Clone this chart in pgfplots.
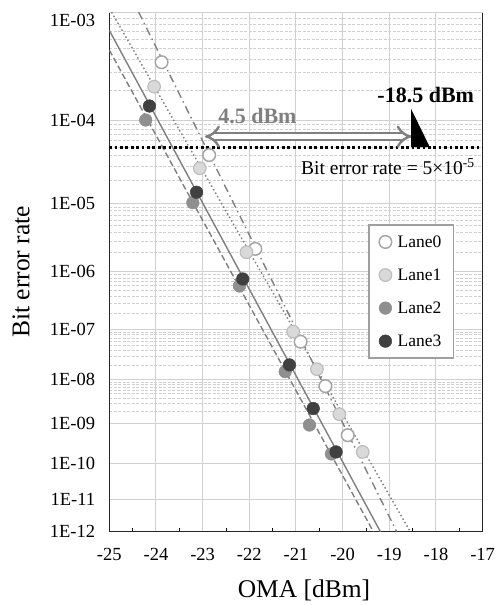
\documentclass[border=0pt]{standalone}
\usepackage{fontspec}
\setmainfont{Liberation Serif}
\usepackage{pgfplots}
\pgfplotsset{compat=1.18}
\usetikzlibrary{arrows.meta}
\definecolor{lc}{HTML}{7F7F7F}
\definecolor{gridc}{HTML}{D0D0D0}
\definecolor{lzero}{HTML}{A6A6A6}
\definecolor{lonefill}{HTML}{D9D9D9}
\definecolor{loneedge}{HTML}{BDBDBD}
\definecolor{ltwo}{HTML}{8F8F8F}
\definecolor{lthree}{HTML}{404040}
\definecolor{arrc}{HTML}{808080}
\begin{document}
\begin{tikzpicture}
\useasboundingbox (-109.3bp,-73.3bp) rectangle (386.7bp,531.7bp);
\begin{axis}[
  at={(0,0)}, anchor=south west,
  scale only axis, width=373.3bp, height=519.5bp,
  xmin=-25, xmax=-17, ymin=1e-12, ymax=1e-3,
  y coord trafo/.code={\begingroup\pgfkeys{/pgf/fpu=true,/pgf/fpu/output format=fixed}\pgfmathparse{-log10(-log10(#1))}\pgfmathsmuggle\pgfmathresult\endgroup},
  xtick={-25,-24,-23,-22,-21,-20,-19,-18,-17},
  xticklabels={-25,-24,-23,-22,-21,-20,-19,-18,-17},
  ytick={1e-4,1e-5,1e-6,1e-7,1e-8,1e-9,1e-10,1e-11,1e-12},
  yticklabels={1E-04,1E-05,1E-06,1E-07,1E-08,1E-09,1E-10,1E-11,1E-12},
  extra y ticks={1e-3},
  extra y tick labels={1E-03},
  extra y tick style={yticklabel style={yshift=-8bp}},
  minor ytick={2e-4,3e-4,4e-4,5e-4,6e-4,7e-4,8e-4,9e-4,
    2e-5,3e-5,4e-5,5e-5,6e-5,7e-5,8e-5,9e-5,
    2e-6,3e-6,4e-6,5e-6,6e-6,7e-6,8e-6,9e-6,
    2e-7,3e-7,4e-7,5e-7,6e-7,7e-7,8e-7,9e-7,
    2e-8,3e-8,4e-8,5e-8,6e-8,7e-8,8e-8,9e-8,
    2e-9,3e-9,4e-9,5e-9,6e-9,7e-9,8e-9,9e-9},
  minor x tick num=1,
  xmajorgrids=true, ymajorgrids=true, yminorgrids=true, xminorgrids=false,
  major grid style={color=gridc, line width=1bp},
  minor grid style={color=gridc, line width=0.7bp, dash pattern=on 3bp off 1.5bp},
  major tick length=0pt, minor tick length=4bp,
  tick align=inside, xtick pos=bottom, ytick pos=left,
  tick style={color=black, line width=0.8bp},
  minor y tick style={draw=none},
  axis line style={color=black!85, line width=1.2bp},
  xticklabel style={font=\fontsize{18.5bp}{20bp}\selectfont, anchor=north, inner sep=0pt, yshift=-16bp},
  yticklabel style={font=\fontsize{18.5bp}{20bp}\selectfont, anchor=east, inner sep=0pt, xshift=-14bp},
  xlabel={OMA [dBm]},
  ylabel={Bit error rate},
  xlabel style={font=\fontsize{25.5bp}{28bp}\selectfont, at={(rel axis cs:0.5216,-0.1122)}, anchor=center},
  ylabel style={font=\fontsize{25.5bp}{28bp}\selectfont, at={(rel axis cs:-0.2365,0.5)}, anchor=center},
  legend style={at={(rel axis cs:0.694,0.592)}, anchor=north west, draw=gray!75, line width=1.5bp, fill=white,
    font=\fontsize{17.5bp}{20bp}\selectfont, row sep=16bp, inner xsep=10bp, inner ysep=8.5bp,
    /tikz/every odd column/.append style={column sep=4bp}},
  legend cell align=left,
  mark size=6.3bp,
  clip=true,
]
% Lane0 and Lane1 points
\addplot[only marks, mark=*, mark options={draw=lzero, fill=white, line width=1.5bp}]
  coordinates {(-23.88,3.73e-4) (-22.86,4.05e-5) (-21.87,2.28e-6) (-20.90,5.9e-8) (-20.37,7.3e-9) (-19.89,5.3e-10)};
\addlegendentry{Lane0\hspace{7bp}}
\addplot[only marks, mark=*, mark options={draw=loneedge, fill=lonefill, line width=1.2bp}]
  coordinates {(-24.04,2.19e-4) (-23.06,2.82e-5) (-22.06,2.03e-6) (-21.06,9.2e-8) (-20.55,1.66e-8) (-20.07,1.7e-9) (-19.57,2.0e-10)};
\addlegendentry{Lane1\hspace{7bp}}
% fit lines
\addplot[forget plot, lc, line width=1.4bp, dash pattern=on 8bp off 4bp on 1.5bp off 4bp] coordinates {(-24.37,1e-3) (-18.84,1e-12)};
\addplot[forget plot, lc, line width=1.4bp, dash pattern=on 1.5bp off 2.5bp] coordinates {(-24.95,1e-3) (-18.55,1e-12)};
\addplot[forget plot, lc, line width=1.4bp, dash pattern=on 6bp off 3bp] coordinates {(-25,4.8e-4) (-19.34,1e-12)};
\addplot[forget plot, lc, line width=1.4bp] coordinates {(-25,7.1e-4) (-19.19,1e-12)};
% Lane2 and Lane3 points
\addplot[only marks, mark=*, mark options={draw=ltwo, fill=ltwo, line width=0.5bp}]
  coordinates {(-24.22,1.0e-4) (-23.21,1.03e-5) (-22.21,5.9e-7) (-21.23,1.48e-8) (-20.71,9.4e-10) (-20.24,1.77e-10)};
\addlegendentry{Lane2\hspace{7bp}}
\addplot[only marks, mark=*, mark options={draw=lthree, fill=lthree, line width=0.5bp}]
  coordinates {(-24.14,1.40e-4) (-23.13,1.41e-5) (-22.14,7.7e-7) (-21.14,2.04e-8) (-20.63,2.3e-9) (-20.14,2.0e-10)};
\addlegendentry{Lane3\hspace{7bp}}
% threshold
\addplot[forget plot, black, line width=2.7bp, dash pattern=on 2.7bp off 2.7bp] coordinates {(-25,5e-5) (-17,5e-5)};
% annotations
\draw[draw=arrc, line width=2.4bp, double=white, double distance=5bp, {Implies}-{Implies}]
  (axis cs:-22.95,6.6e-5) -- (axis cs:-18.52,6.6e-5);
\fill[black] (axis cs:-18.53,1.30e-4) -- (axis cs:-18.53,5e-5) -- (axis cs:-18.13,5e-5) -- cycle;
\node[font=\fontsize{22bp}{24bp}\selectfont\bfseries, text=arrc, inner sep=0pt] at (axis cs:-21.825,1.09e-4) {4.5 dBm};
\node[font=\fontsize{22bp}{24bp}\selectfont\bfseries, text=black, inner sep=0pt] at (axis cs:-18.218,1.81e-4) {-18.5 dBm};
\node[font=\fontsize{19.5bp}{21bp}\selectfont, anchor=east, inner sep=0pt] at (axis cs:-17.164,2.95e-5) {Bit error rate = 5×10\textsuperscript{-5}};
\end{axis}
\end{tikzpicture}
\end{document}
